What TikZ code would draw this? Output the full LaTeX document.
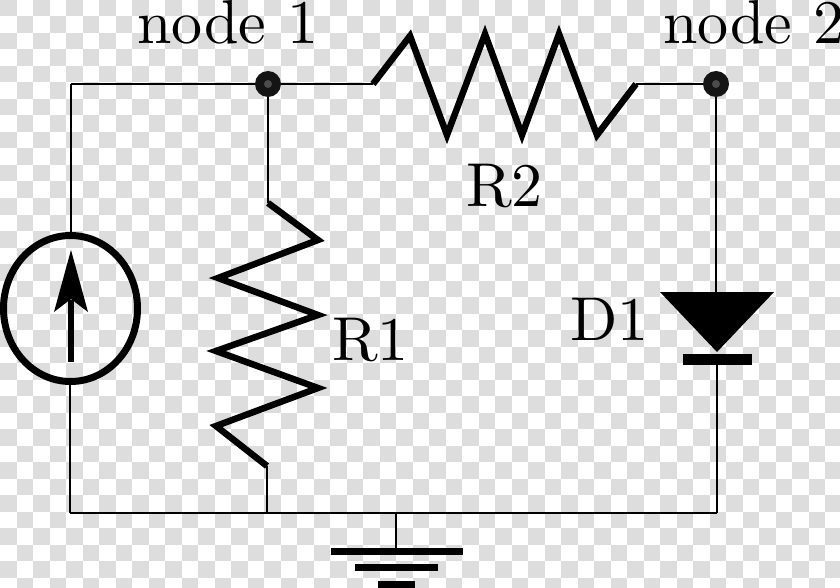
\documentclass[tikz,border=0pt]{standalone}
\usetikzlibrary{shapes.geometric}
\definecolor{chk}{HTML}{DDDDDD}
\font\lmten="[lmroman10-regular.otf]" at 62pt
\begin{document}
\begin{tikzpicture}[x=1pt,y=-1pt,
  wire/.style={line width=2pt,black},
  zig/.style={line width=6.5pt,black,line join=miter,miter limit=10},
  junction/.style={circle,fill=black!92,minimum size=26pt,inner sep=0pt},
  lbl/.style={inner sep=0pt,font=\lmten,text=black},
  bar/.style={fill=black,draw=none}]
\useasboundingbox (0,0) rectangle (840,588);
\fill[white] (0,0) rectangle (840,588);
\foreach \i in {0,...,50}{\foreach \j in {0,...,35}{
  \pgfmathparse{int(mod(\i+\j,2))}
  \ifnum\pgfmathresult=0
    \pgfmathsetmacro{\xa}{\i*16.5}\pgfmathsetmacro{\ya}{\j*16.5}
    \pgfmathsetmacro{\xb}{min(840,(\i+1)*16.5)}\pgfmathsetmacro{\yb}{min(588,(\j+1)*16.5)}
    \fill[chk] (\xa,\ya) rectangle (\xb,\yb);
  \fi}}
% points
\coordinate (tl) at (71,84);
\coordinate (bl) at (70,513);
\coordinate (br) at (717,513);
\coordinate (r1top) at (268,203);
\coordinate (r1bot) at (267,466);
\coordinate (r1base) at (267,513);
\coordinate (r2l) at (373,84);
\coordinate (r2r) at (636,84);
\coordinate (gt) at (396,513);
\coordinate (gb) at (396,549);
\coordinate (dk) at (716,292);
\coordinate (da) at (717,360);
\coordinate (arrowbase) at (71,362);
% wires
\draw[wire] (tl) -- (r2l);
\draw[wire] (r2r) -- (716,84);
\draw[wire] (268,84) -- (r1top);
\draw[wire] (r1bot) -- (r1base);
\draw[wire] (716,84) -- (dk);
\draw[wire] (da) -- (br);
\draw[wire] (bl) -- (br);
\draw[wire] (gt) -- (gb);
% source
\node[ellipse,draw=black,line width=7pt,minimum width=134pt,minimum height=146pt,inner sep=0pt,outer sep=0pt] (src) at (70.5,308.5) {};
\draw[wire] (tl) -- (71,232);
\draw[wire] (70,385) -- (bl);
\draw[line width=6pt] (arrowbase) -- (71,300);
\fill[black] (71,250) -- (88,312) -- (71,299) -- (54,312) -- cycle;
% resistors
\draw[zig] (r1top) -- (318,240) -- (218,278) -- (318,315) -- (216,351) -- (318,388) -- (216,426) -- (r1bot);
\draw[zig] (r2l) -- (410,36) -- (447,135) -- (485,34) -- (522,135) -- (559,34) -- (597,135) -- (r2r);
% diode
\fill[black] (660,292) -- (774,292) -- (717,352) -- cycle;
\fill[bar] (683,354) rectangle (752,365);
% ground
\fill[bar] (331,548) rectangle (463,555);
\fill[bar] (355,564) rectangle (438,571);
\fill[bar] (378,581) rectangle (415,588);
% junctions
\node[junction] (n1) at (268,84) {};
\node[junction] (n2) at (716,84) {};
\fill[black!70] (268,84) circle (4pt);
\fill[black!70] (716,84) circle (4pt);
% labels
\node[lbl,anchor=base west] (ln1) at (137,44) {node 1};
\node[lbl,anchor=base west] (ln2) at (663,44) {node 2};
\node[lbl,anchor=base west] (lr2) at (466,206) {R2};
\node[lbl,anchor=base west] (lr1) at (332,360) {R1};
\node[lbl,anchor=base west] (ld1) at (570,340) {D1};
\end{tikzpicture}
\end{document}
